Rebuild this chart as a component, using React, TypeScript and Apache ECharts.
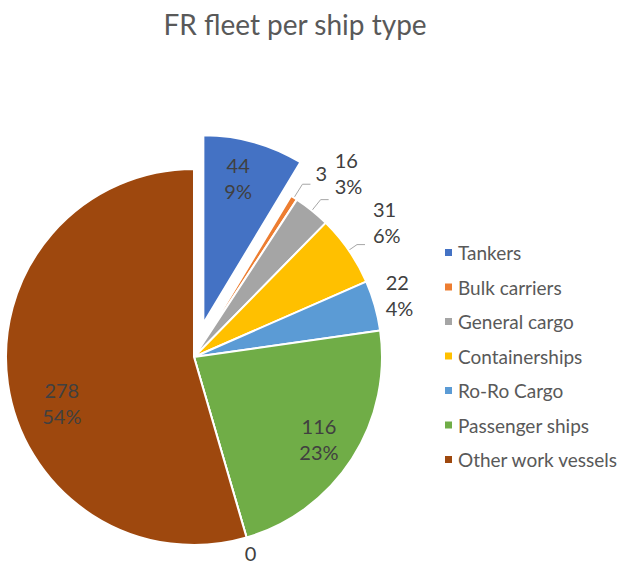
import React, { useEffect, useRef } from "react";
import * as echarts from "echarts";

const categories = [
  "Tankers",
  "Bulk carriers",
  "General cargo",
  "Containerships",
  "Ro-Ro Cargo",
  "Passenger ships",
  "",
  "Other work vessels",
];
const values = [44, 3, 16, 31, 22, 116, 0, 278];
const legendNames = categories.filter((c) => c !== "");

// ---- styling (not data) ----
const colors = ["#4472C4", "#ED7D31", "#A5A5A5", "#FFC000", "#5B9BD5", "#70AD47", "#70AD47", "#9E480E"];
// outside-label tuning per slice (null = label drawn inside)
const outsideStyle: Array<null | {
  fmt: string;
  len: number;
  len2: number;
  lineColor: string;
  dx: number;
  dy: number;
}> = [
  null,
  { fmt: "{c}", len: 16, len2: 8, lineColor: "#A6A6A6", dx: 0, dy: -11 },
  { fmt: "{c}\n{d}%", len: 14, len2: 8, lineColor: "#A6A6A6", dx: 1, dy: -27 },
  { fmt: "{c}\n{d}%", len: 10, len2: 8, lineColor: "#A6A6A6", dx: 3, dy: -23 },
  { fmt: "{c}\n{d}%", len: 4, len2: 2, lineColor: "rgba(0,0,0,0)", dx: 0, dy: -9 },
  null,
  { fmt: "{c}", len: 1, len2: 1, lineColor: "rgba(0,0,0,0)", dx: -8, dy: 15 },
  null,
];
const insideShift: Array<number[] | null> = [[-5, -2], null, null, null, null, [0, 1], null, [15, 25]];

const FONT = "Lato, 'Open Sans', sans-serif";

export default function App() {
  const ref = useRef<HTMLDivElement>(null);
  useEffect(() => {
    if (!ref.current) return;
    const chart = echarts.init(ref.current, undefined, { renderer: "svg" });
    const R = 188;
    const center = [194, 357];
    const mainData = categories.map((name, i) => {
      const s = outsideStyle[i];
      return {
        name,
        value: values[i],
        selected: i === 0,
        itemStyle: { color: colors[i] },
        label: s ? { show: true, formatter: s.fmt } : { show: false },
        labelLine: s
          ? { show: true, length: s.len, length2: s.len2, lineStyle: { color: s.lineColor, width: 1 } }
          : { show: false },
      };
    });
    const overlayData = categories.map((name, i) => ({
      name,
      value: values[i],
      selected: i === 0,
      label: { show: !!insideShift[i] },
    }));
    chart.setOption({
      animation: false,
      title: {
        text: "FR fleet per ship type",
        left: 290,
        textAlign: "center",
        top: 5,
        textStyle: { fontFamily: FONT, fontSize: 28, fontWeight: "normal", color: "#595959" },
      },
      legend: {
        orient: "vertical",
        left: 438,
        top: 238,
        data: legendNames,
        icon: "rect",
        itemWidth: 9,
        itemHeight: 9,
        itemGap: 15.5,
        selectedMode: false,
        textStyle: { fontFamily: FONT, fontSize: 19, color: "#595959", lineHeight: 19 },
      },
      series: [
        {
          type: "pie",
          center,
          radius: [0, R],
          startAngle: 90,
          clockwise: true,
          percentPrecision: 0,
          selectedMode: "single",
          selectedOffset: 35,
          avoidLabelOverlap: false,
          emphasis: { disabled: true },
          itemStyle: { borderColor: "#ffffff", borderWidth: 2 },
          label: {
            position: "outside",
            fontFamily: FONT,
            fontSize: 20,
            lineHeight: 26,
            color: "#404040",
          },
          labelLine: {
            lineStyle: { color: "#A6A6A6", width: 1 },
          },
          labelLayout: (p: any) => {
            const s = outsideStyle[p.dataIndex];
            return s ? { dx: s.dx, dy: s.dy } : {};
          },
          data: mainData,
        },
        {
          type: "pie",
          center,
          radius: [R * 0.55, R],
          startAngle: 90,
          clockwise: true,
          percentPrecision: 0,
          selectedMode: "single",
          selectedOffset: 35,
          silent: true,
          emphasis: { disabled: true },
          itemStyle: { color: "rgba(0,0,0,0)", borderWidth: 0 },
          label: {
            position: "inside",
            formatter: "{c}\n{d}%",
            fontFamily: FONT,
            fontSize: 20,
            lineHeight: 26,
            color: "#404040",
          },
          labelLine: { show: false },
          labelLayout: (p: any) => {
            const s = insideShift[p.dataIndex];
            return s ? { dx: s[0], dy: s[1] } : {};
          },
          data: overlayData,
        },
      ],
    });
    return () => chart.dispose();
  }, []);
  return (
    <div
      ref={ref}
      style={{ position: "fixed", left: 0, top: 0, width: 618, height: 564, background: "#fff" }}
    />
  );
}
